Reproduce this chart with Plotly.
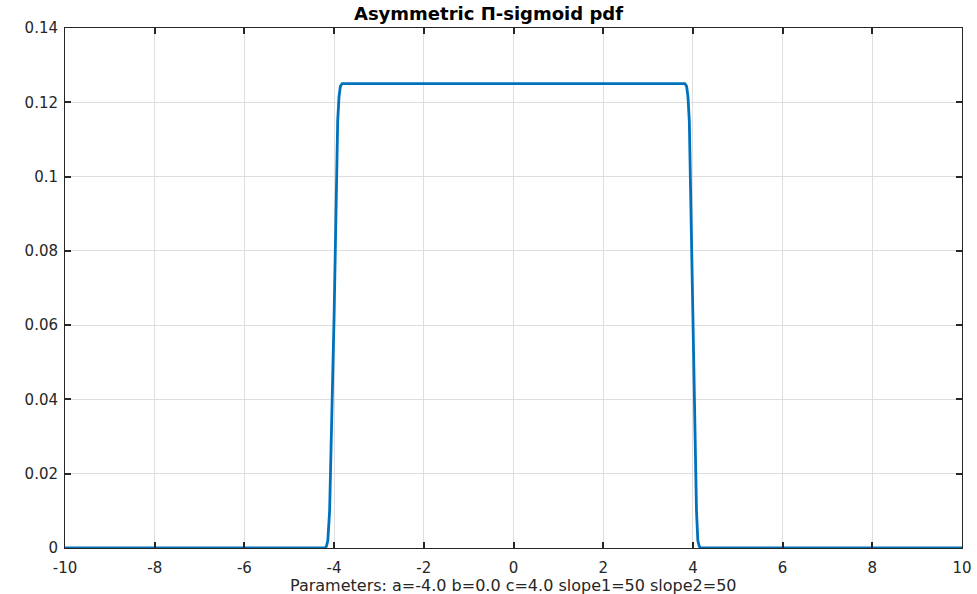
import plotly.graph_objects as go

x_vals = [-10.0, -4.2, -4.17, -4.14, -4.1, -4.0, -3.92, -3.89, -3.86, -3.82,
          3.82, 3.86, 3.89, 3.92, 4.0, 4.08, 4.11, 4.14, 4.17, 10.0]
pdf_vals = [0.0, 0.0, 0.0005, 0.002, 0.01, 0.0625, 0.115, 0.1215, 0.1243, 0.125,
            0.125, 0.1243, 0.1215, 0.115, 0.0625, 0.01, 0.002, 0.0005, 0.0, 0.0]

x_ticks = [-10, -8, -6, -4, -2, 0, 2, 4, 6, 8, 10]
x_tick_text = ["-10", "-8", "-6", "-4", "-2", "0", "2", "4", "6", "8", "10"]
y_ticks = [0, 0.02, 0.04, 0.06, 0.08, 0.1, 0.12, 0.14]
y_tick_text = ["0", "0.02", "0.04", "0.06", "0.08", "0.1", "0.12", "0.14"]

title_text = "Asymmetric Π-sigmoid pdf"
xlabel_text = "Parameters: a=-4.0 b=0.0 c=4.0 slope1=50 slope2=50"

fig = go.Figure()
fig.add_trace(go.Scatter(
    x=x_vals, y=pdf_vals, mode="lines",
    line=dict(color="#0072BD", width=2.8),
    showlegend=False, hoverinfo="skip",
))

axis_common = dict(
    showline=True, linecolor="#262626", linewidth=1, mirror="allticks",
    ticks="inside", ticklen=6, tickcolor="#262626", tickwidth=1.5,
    showgrid=True, gridcolor="#dedede", gridwidth=1,
    zeroline=False, automargin=False,
    tickfont=dict(family="DejaVu Sans", size=15, color="#262626"),
)

fig.update_xaxes(range=[-10, 10], tickvals=x_ticks, ticktext=x_tick_text,
                 ticklabelstandoff=6, **axis_common)
fig.update_yaxes(range=[0, 0.14], tickvals=y_ticks, ticktext=y_tick_text,
                 ticklabelstandoff=3, **axis_common)

# x-axis label placed as a paper-anchored annotation below the tick labels
fig.add_annotation(
    text=xlabel_text, xref="paper", yref="paper", x=0.5, y=-37 / 520,
    xanchor="center", yanchor="middle", showarrow=False,
    font=dict(family="DejaVu Sans", size=16, color="#262626"),
)

fig.update_layout(
    width=977, height=594,
    margin=dict(l=65, r=15, t=28, b=46),
    paper_bgcolor="white", plot_bgcolor="white",
    title=dict(text="<b>" + title_text + "</b>", x=0.5, xanchor="center",
               y=1 - 14 / 594, yanchor="middle",
               font=dict(family="DejaVu Sans", size=18, color="#000000")),
)

fig.write_html("out.html")
